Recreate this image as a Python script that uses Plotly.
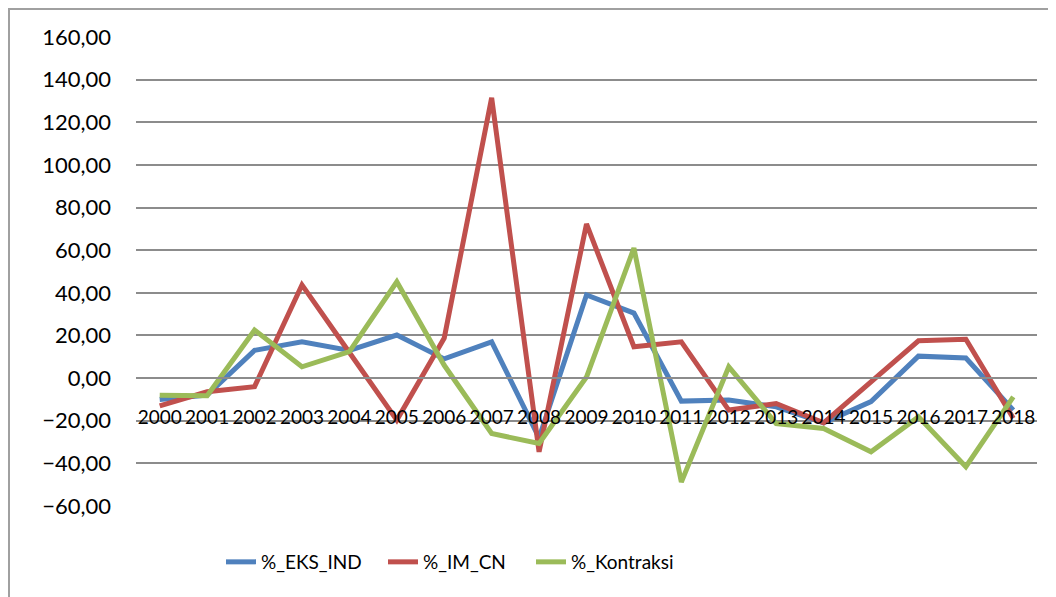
import plotly.graph_objects as go

years = [str(y) for y in range(2000, 2019)]
eks_ind = [-10, -8, 13, 17, 13, 20.2, 9, 17, -28, 39, 30.5, -10.8, -10.3, -13.5, -21, -11, 10.3, 9.4, -15]
im_cn = [-13, -6.4, -4, 43.7, 12, -19.7, 18.8, 131.5, -34.6, 72.3, 14.7, 17, -15, -11.9, -21, -2, 17.5, 18.2, -18.8]
kontraksi = [-8, -8.3, 22.5, 5.3, 12.4, 45.2, 6, -26, -30.7, 0.5, 61, -48.8, 5.3, -21.3, -23.6, -34.6, -18.2, -41.6, -8.8]

series = [
    ("%_EKS_IND", eks_ind, "#4F81BD"),
    ("%_IM_CN", im_cn, "#C0504D"),
    ("%_Kontraksi", kontraksi, "#9BBB59"),
]

FONT = "Lato, 'Open Sans', sans-serif"

OFF = 8  # page body margin
W, H = 1056 - OFF, 597 - OFF
L, T = 136 - OFF, 37 - OFF
R = 1056 - 1037
B = 597 - 506
pw, ph = W - L - R, H - T - B


def px_x(p):
    return (p - OFF - L) / pw


def px_y(p):
    return (H - B - (p - OFF)) / ph


legend_ids = ["legend", "legend2", "legend3"]
legend_left = [221, 383, 531]

fig = go.Figure()
for (name, vals, col), lid in zip(series, legend_ids):
    fig.add_trace(go.Scatter(x=years, y=vals, mode="lines", name=name, legend=lid,
                             line=dict(color=col, width=5)))

legend_layouts = {}
for lid, lx in zip(legend_ids, legend_left):
    legend_layouts[lid] = dict(orientation="h", x=px_x(lx), xanchor="left",
                               y=px_y(562), yanchor="middle",
                               font=dict(size=19, family=FONT), bgcolor="rgba(0,0,0,0)")

fig.update_layout(
    width=W, height=H,
    margin=dict(l=L, r=R, t=T, b=B),
    paper_bgcolor="white", plot_bgcolor="white",
    separators=",.",
    font=dict(family=FONT, color="black"),
    showlegend=True,
    xaxis=dict(type="category", range=[-0.5, 18.5], anchor="free", position=px_y(378),
               showgrid=False, showline=True, linecolor="#8C8C8C", linewidth=1.5,
               ticks="", tickfont=dict(size=19, family=FONT), ticklabelstandoff=22),
    yaxis=dict(range=[-60, 160], dtick=20, tick0=0, tickformat=".2f",
               showgrid=True, gridcolor="#8C8C8C", gridwidth=1.5,
               zeroline=True, zerolinecolor="#8C8C8C", zerolinewidth=1.5,
               showline=False, ticks="", tickfont=dict(size=22, family=FONT),
               ticklabelstandoff=24),
    shapes=[dict(type="rect", xref="paper", yref="paper",
                 x0=px_x(8.5), x1=px_x(1075), y0=px_y(8.5), y1=px_y(620),
                 line=dict(color="#A0A0A0", width=3), layer="below")],
    **legend_layouts,
)

fig.write_html("out.html")
